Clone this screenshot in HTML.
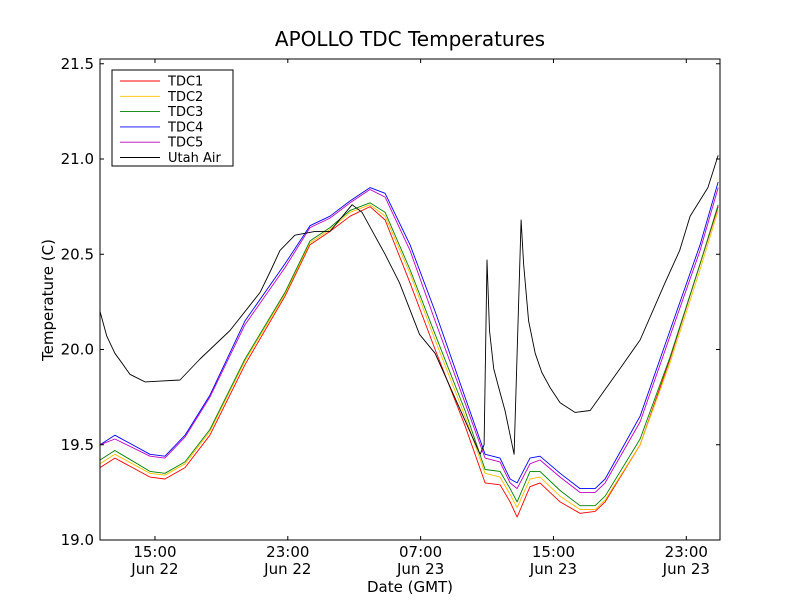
<!DOCTYPE html>
<html><head><meta charset="utf-8"><style>
body{margin:0;background:#fff;font-family:"Liberation Sans","DejaVu Sans",sans-serif}
svg text{font-family:"DejaVu Sans","Liberation Sans",sans-serif}
</style></head><body>
<svg id="chart" width="800" height="600" xmlns="http://www.w3.org/2000/svg"></svg>
<script>
const tdcHours=[11.69,12.59,14.70,15.60,16.81,18.31,20.42,22.83,24.34,25.54,26.75,27.95,28.86,30.36,31.87,33.67,34.88,35.78,36.39,36.81,37.59,38.19,39.40,40.60,41.51,42.11,44.22,46.02,47.83,48.92];
const tdc1=[19.38,19.43,19.33,19.32,19.38,19.55,19.92,20.28,20.55,20.62,20.7,20.75,20.68,20.35,20.0,19.6,19.3,19.29,19.2,19.12,19.28,19.3,19.2,19.14,19.15,19.2,19.5,19.95,20.45,20.75];
const tdc2=[19.4,19.45,19.35,19.34,19.4,19.57,19.94,20.29,20.56,20.63,20.72,20.76,20.7,20.4,20.05,19.65,19.35,19.33,19.24,19.17,19.32,19.33,19.23,19.16,19.16,19.21,19.5,19.93,20.42,20.73];
const tdc3=[19.42,19.47,19.36,19.35,19.41,19.58,19.95,20.3,20.57,20.64,20.73,20.77,20.72,20.42,20.08,19.68,19.37,19.36,19.27,19.2,19.36,19.36,19.26,19.18,19.18,19.23,19.53,19.96,20.45,20.76];
const tdc4=[19.5,19.55,19.45,19.44,19.55,19.76,20.15,20.45,20.65,20.7,20.78,20.85,20.82,20.55,20.2,19.75,19.45,19.43,19.32,19.3,19.43,19.44,19.35,19.27,19.27,19.32,19.65,20.1,20.55,20.88];
const tdc5=[19.5,19.53,19.44,19.43,19.54,19.75,20.13,20.43,20.64,20.69,20.77,20.84,20.8,20.52,20.15,19.72,19.43,19.41,19.3,19.27,19.4,19.42,19.33,19.25,19.25,19.3,19.62,20.07,20.52,20.85];
const airHours=[11.69,12.1,12.59,13.0,13.49,14.40,16.51,17.71,19.52,21.33,22.0,22.53,23.43,24.64,25.54,26.87,27.47,28.86,29.73,30.93,31.87,34.58,34.82,35.0,35.15,35.4,35.7,36.08,36.63,37.05,37.2,37.5,37.9,38.3,38.8,39.40,40.30,41.21,43.01,44.22,45.72,46.6,47.23,48.3,48.92];
const air=[20.2,20.07,19.98,19.93,19.87,19.83,19.84,19.95,20.1,20.3,20.42,20.52,20.6,20.62,20.62,20.76,20.72,20.5,20.35,20.08,19.98,19.45,19.5,20.47,20.1,19.9,19.8,19.68,19.45,20.68,20.45,20.15,19.98,19.88,19.8,19.72,19.67,19.68,19.9,20.05,20.35,20.52,20.7,20.85,21.02];
const yTicks=[19.0,19.5,20.0,20.5,21.0,21.5];
const yTickLabels=["19.0","19.5","20.0","20.5","21.0","21.5"];
const xTicks=[15,23,31,39,47];
const xTickLabels=[["15:00","Jun 22"],["23:00","Jun 22"],["07:00","Jun 23"],["15:00","Jun 23"],["23:00","Jun 23"]];
const seriesNames=["TDC1","TDC2","TDC3","TDC4","TDC5","Utah Air"];

const L=100,R=720,T=59,B=540;
const xMin=11.69,xMax=49.03,yMin=19.0,yMax=21.525;
const X=h=>L+(h-xMin)/(xMax-xMin)*(R-L);
const Y=v=>B-(v-yMin)/(yMax-yMin)*(B-T);
const svg=document.getElementById('chart');
const NS='http://www.w3.org/2000/svg';
function mk(tag,attrs,parent){const e=document.createElementNS(NS,tag);for(const k in attrs)e.setAttribute(k,attrs[k]);(parent||svg).appendChild(e);return e;}

let t=mk('text',{x:410,y:46,'text-anchor':'middle','font-size':20});t.textContent='APOLLO TDC Temperatures';



const colors=['#ff0000','#ffbf00','#008000','#0000ff','#bf00bf','#000000'];
const sets=[[tdcHours,tdc1],[tdcHours,tdc2],[tdcHours,tdc3],[tdcHours,tdc4],[tdcHours,tdc5],[airHours,air]];
sets.forEach((s,i)=>{
  const pts=s[0].map((h,j)=>X(h).toFixed(1)+','+Y(s[1][j]).toFixed(1)).join(' ');
  const p=mk('polyline',{points:pts,fill:'none',stroke:colors[i],'stroke-width':0.9,'stroke-linejoin':'round'});
  
  
});

const frame=mk('rect',{x:L,y:T,width:R-L,height:B-T,fill:'none',stroke:'#000','stroke-width':1});



yTicks.forEach((v,i)=>{
  const y=Y(v);
  mk('line',{x1:L,x2:L+4,y1:y,y2:y,stroke:'#000'});
  mk('line',{x1:R-4,x2:R,y1:y,y2:y,stroke:'#000'});
  const tx=mk('text',{x:L-6,y:y+5,'text-anchor':'end','font-size':15});tx.textContent=yTickLabels[i];
  
  
});
xTicks.forEach((h,i)=>{
  const x=X(h);
  mk('line',{x1:x,x2:x,y1:B,y2:B-4,stroke:'#000'});
  mk('line',{x1:x,x2:x,y1:T,y2:T+4,stroke:'#000'});
  const a=mk('text',{x:x,y:557,'text-anchor':'middle','font-size':15});a.textContent=xTickLabels[i][0];
  
  
  const b=mk('text',{x:x,y:574,'text-anchor':'middle','font-size':15});b.textContent=xTickLabels[i][1];
  
  
});
let xl=mk('text',{x:410,y:592,'text-anchor':'middle','font-size':15});xl.textContent='Date (GMT)';


let yl=mk('text',{x:0,y:0,'text-anchor':'middle','font-size':15,transform:'translate(53,300) rotate(-90)'});yl.textContent='Temperature (C)';



const lg=mk('g',{});


mk('rect',{x:112,y:70,width:121,height:96,fill:'#fff',stroke:'#000'},lg);
seriesNames.forEach((n,i)=>{
  const y=81+i*15.3;
  const g=mk('g',{},lg);
  
  
  mk('line',{x1:120,x2:160,y1:y,y2:y,stroke:colors[i],'stroke-width':0.9},g);
  const tx=mk('text',{x:168,y:y+4.5,'font-size':13},g);tx.textContent=n;
});
</script>
</body></html>
